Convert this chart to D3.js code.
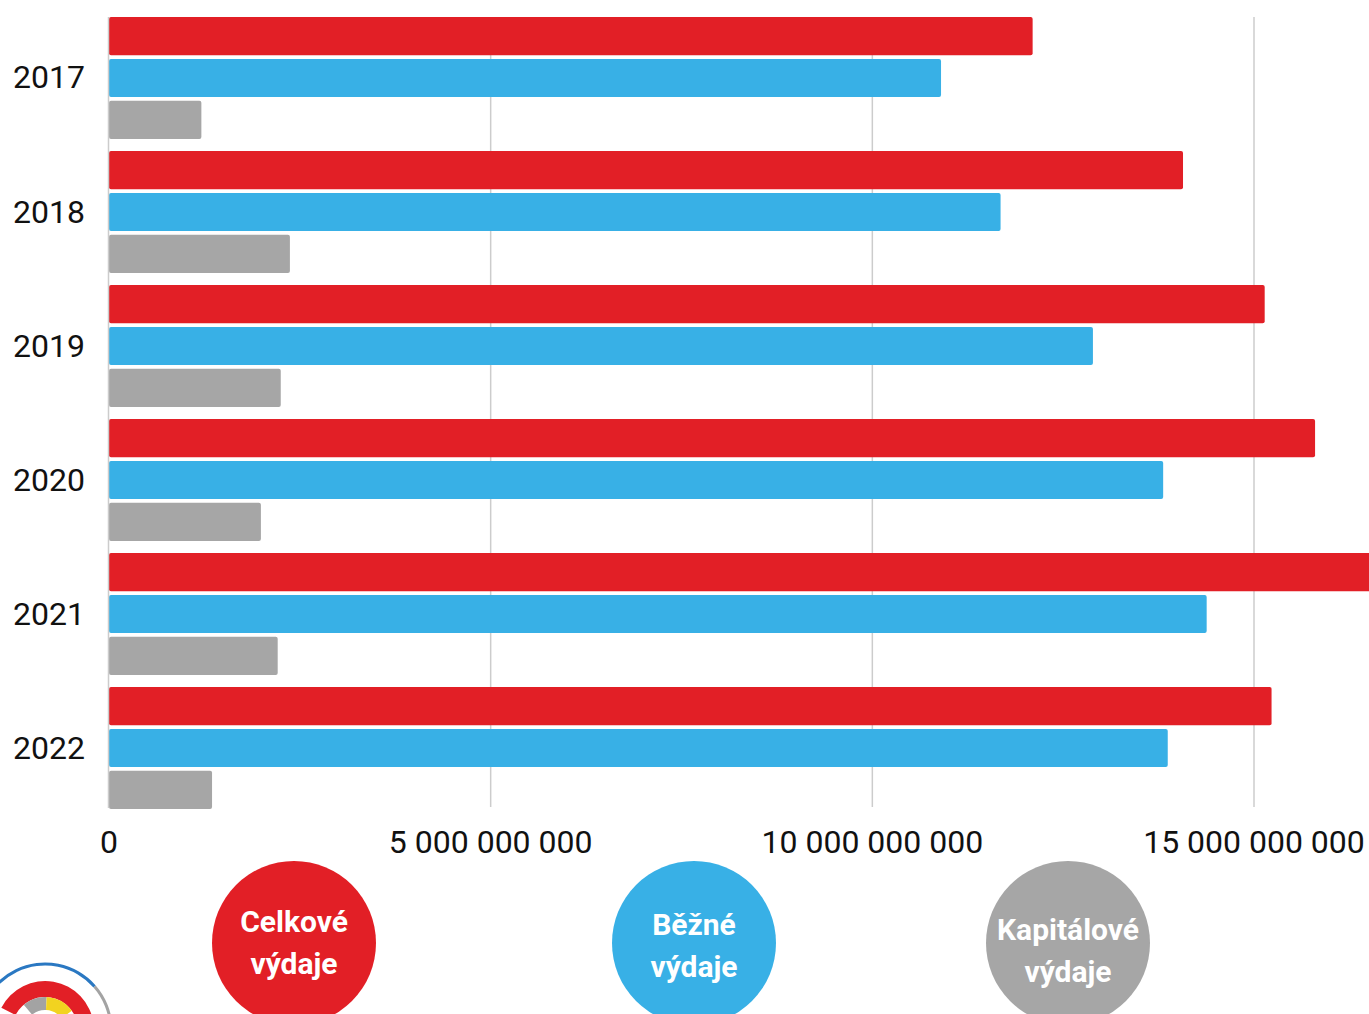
<!DOCTYPE html>
<html>
<head>
<meta charset="utf-8">
<script src="https://cdn.jsdelivr.net/npm/d3@7"></script>
<style>
  body { margin: 0; background: #fff; }
  svg { display: block; font-family: Roboto, "Noto Sans", sans-serif; }
</style>
</head>
<body>
<div id="chart"></div>
<script>
// Data
var years = ["2017", "2018", "2019", "2020", "2021", "2022"];
var celkove = [12.10e9, 14.07e9, 15.14e9, 15.80e9, 16.60e9, 15.23e9];
var bezne = [10.90e9, 11.68e9, 12.89e9, 13.81e9, 14.38e9, 13.87e9];
var kapitalove = [1.21e9, 2.37e9, 2.25e9, 1.99e9, 2.21e9, 1.35e9];
var xTicks = [0, 5e9, 10e9, 15e9];
var seriesNames = ["Celkové výdaje", "Běžné výdaje", "Kapitálové výdaje"];
var seriesColors = ["#e21f26", "#38b0e6", "#a6a6a6"];

var w = 1369;
var h = 1014;

var series = [celkove, bezne, kapitalove];
var rows = years.map(function(y, i) {
  return { year: y, values: series.map(function(s, j) { return { key: j, value: s[i] }; }) };
});

// Scales
var xScale = d3.scaleLinear()
  .domain([0, 15e9])
  .range([109, 1254]);

var yScale = d3.scaleBand()
  .domain(years)
  .range([17, 809])
  .paddingInner(0.09)
  .paddingOuter(0);

var ySub = d3.scaleBand()
  .domain([0, 1, 2])
  .range([0, yScale.bandwidth()])
  .paddingInner(0.09);

var fmt = d3.formatLocale({ decimal: ",", thousands: " ", grouping: [3], currency: ["", ""] }).format(",");

var svg = d3.select("#chart")
  .append("svg")
  .attr("width", w)
  .attr("height", h);

// Gridlines
svg.append("g")
  .selectAll("line")
  .data(xTicks.slice(1))
  .enter().append("line")
  .attr("x1", function(d) { return xScale(d); })
  .attr("x2", function(d) { return xScale(d); })
  .attr("y1", 17)
  .attr("y2", 807)
  .attr("stroke", "#cccccc")
  .attr("stroke-width", 1.5);

// Bars
var group = svg.selectAll(".yeargroup")
  .data(rows)
  .enter().append("g")
  .attr("class", "yeargroup")
  .attr("transform", function(d) { return "translate(0," + yScale(d.year) + ")"; });

group.selectAll("rect")
  .data(function(d) { return d.values; })
  .enter().append("rect")
  .attr("x", xScale(0))
  .attr("y", function(d) { return ySub(d.key); })
  .attr("width", function(d) { return xScale(d.value) - xScale(0); })
  .attr("height", ySub.bandwidth())
  .attr("rx", 2)
  .attr("fill", function(d) { return seriesColors[d.key]; });

// Y axis line
svg.append("line")
  .attr("x1", 108.5).attr("x2", 108.5)
  .attr("y1", 17).attr("y2", 808)
  .attr("stroke", "#cccccc")
  .attr("stroke-width", 1.5);

// Year labels
svg.append("g")
  .selectAll("text")
  .data(years)
  .enter().append("text")
  .attr("x", 85)
  .attr("y", function(d) { return yScale(d) + yScale.bandwidth() / 2 - 1; })
  .attr("dy", "0.36em")
  .attr("text-anchor", "end")
  .style("font-size", "32px")
  .style("fill", "#111")
  .text(function(d) { return d; });

// X tick labels
svg.append("g")
  .selectAll("text")
  .data(xTicks)
  .enter().append("text")
  .attr("x", function(d) { return xScale(d); })
  .attr("y", 853)
  .attr("text-anchor", "middle")
  .style("font-size", "32px")
  .style("fill", "#111")
  .text(function(d) { return fmt(d); });

// Legend bubbles
var legendX = [294, 694, 1068];
var legend = svg.selectAll(".legend")
  .data(seriesNames)
  .enter().append("g")
  .attr("class", "legend")
  .attr("transform", function(d, i) { return "translate(" + legendX[i] + ",943)"; });

legend.append("circle")
  .attr("r", 82)
  .attr("fill", function(d, i) { return seriesColors[i]; });

legend.append("text")
  .attr("text-anchor", "middle")
  .style("font-size", "30px")
  .style("font-weight", "700")
  .style("fill", "#fff")
  .selectAll("tspan")
  .data(function(d, i) { return d.split(" ").map(function(t) { return { t: t, i: i }; }); })
  .enter().append("tspan")
  .attr("x", 0)
  .attr("y", function(d, k) { return [-22, -19, -14][d.i] + k * 42; })
  .attr("dy", "0.35em")
  .text(function(d) { return d.t; });

// Logo fragment in the corner
var logo = svg.append("g").attr("transform", "translate(45,1030)");
var arc = d3.arc();
var logoParts = [
  { inner: 64.5, outer: 67.5, a0: -1.75, a1: 0.85, c: "#2a78c2" },
  { inner: 64.5, outer: 67.5, a0: 0.85, a1: 2.2, c: "#a3a3a3" },
  { inner: 33, outer: 49, a0: -1.1, a1: 1.45, c: "#e21f26" },
  { inner: 20, outer: 33, a0: -0.7, a1: 0.05, c: "#a3a3a3" },
  { inner: 20, outer: 33, a0: 0.05, a1: 0.95, c: "#f2d320" }
];
logo.selectAll("path")
  .data(logoParts)
  .enter().append("path")
  .attr("d", function(d) {
    return arc({ innerRadius: d.inner, outerRadius: d.outer, startAngle: d.a0, endAngle: d.a1 });
  })
  .attr("fill", function(d) { return d.c; });
</script>
</body>
</html>
